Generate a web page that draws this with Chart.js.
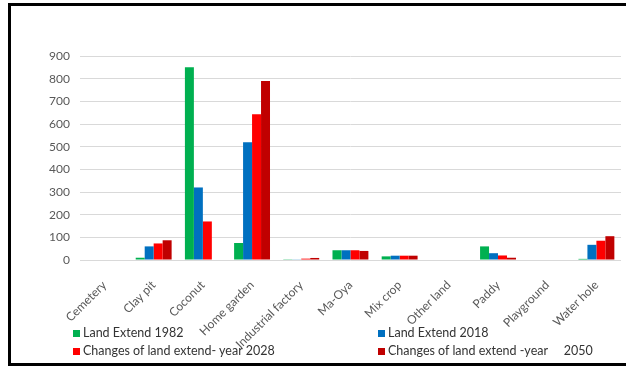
<!DOCTYPE html>
<html>
<head>
<meta charset="utf-8">
<script src="https://cdn.jsdelivr.net/npm/chart.js@4"></script>
<style>
    body { margin: 0; background: #fff; width: 626px; height: 366px; overflow: hidden; position: relative; font-family: Lato, "Liberation Sans", sans-serif; }
    #marco { position: absolute; left: 8px; top: 3px; width: 640px; height: 357px; border: 3px solid #000; box-sizing: content-box; }
    #caixa { position: absolute; left: 3px; top: 3px; width: 622px; height: 353px; }
    #legenda { position: absolute; left: 0; top: 0; }
    .item { position: absolute; font-size: 12.5px; color: #333; white-space: nowrap; }
    .item span { display: inline-block; width: 7px; height: 7px; margin-right: 3px; }
</style>
</head>
<body>
<div id="marco"></div>
<div id="caixa"><canvas id="graficoUsoTerra"></canvas></div>
<div id="legenda"></div>
<script>
// Dados
const categorias = ['Cemetery', 'Clay pit', 'Coconut', 'Home garden', 'Industrial factory', 'Ma-Oya',
    'Mix crop', 'Other land', 'Paddy', 'Playground', 'Water hole'];
const extensao1982 = [0, 10, 850, 75, 1, 43, 16, 0, 60, 0, 5];
const extensao2018 = [0, 60, 320, 520, 3, 43, 19, 0, 30, 0, 67];
const mudanca2028 = [0, 73, 170, 643, 6, 43, 19, 0, 20, 0, 85];
const mudanca2050 = [0, 87, 0, 790, 9, 40, 19, 0, 10, 0, 105];
const nomesSeries = ['Land Extend 1982', 'Land Extend 2018', 'Changes of land extend- year 2028', 'Changes of land extend -year     2050'];
const coresSeries = ['#00b050', '#0070c0', '#ff0000', '#c00000'];
const ticksY = [0, 100, 200, 300, 400, 500, 600, 700, 800, 900];

const series = [extensao1982, extensao2018, mudanca2028, mudanca2050];

const ctx = document.getElementById('graficoUsoTerra').getContext('2d');
const grafico = new Chart(ctx, {
    type: 'bar',
    data: {
        labels: categorias,
        datasets: series.map((valores, i) => ({
            label: nomesSeries[i],
            data: valores,
            backgroundColor: coresSeries[i],
            borderWidth: 0,
            categoryPercentage: 0.73,
            barPercentage: 1.0
        }))
    },
    options: {
        responsive: true,
        maintainAspectRatio: false,
        animation: false,
        layout: { padding: { top: 53, right: 4, left: 36, bottom: 0 } },
        plugins: {
            legend: { display: false },
            tooltip: { enabled: false }
        },
        scales: {
            x: {
                grid: { display: false },
                border: { display: false },
                // altura fixa do eixo para o zero ficar na mesma linha do original
                afterFit: (eixo) => { eixo.height = 96; },
                ticks: {
                    color: '#595959',
                    font: { family: 'Lato', size: 12 },
                    minRotation: 45,
                    maxRotation: 45,
                    autoSkip: false,
                    padding: 10
                }
            },
            y: {
                min: 0,
                max: 900,
                afterBuildTicks: (eixo) => { eixo.ticks = ticksY.map(v => ({ value: v })); },
                grid: { color: '#d9d9d9', lineWidth: 1, drawTicks: false },
                border: { display: false },
                ticks: {
                    color: '#595959',
                    font: { family: 'Lato', size: 12 },
                    padding: 10
                }
            }
        }
    }
});

// Legenda em duas colunas, como no original
const posicoes = [[73, 325], [378, 325], [73, 343], [378, 343]];
const legenda = document.getElementById('legenda');
grafico.data.datasets.forEach((ds, i) => {
    const el = document.createElement('div');
    el.className = 'item';
    el.style.left = posicoes[i][0] + 'px';
    el.style.top = posicoes[i][1] + 'px';
    el.innerHTML = '<span style="background:' + ds.backgroundColor + '"></span>' + ds.label.replace(/ {2,}/g, m => '&nbsp;'.repeat(m.length));
    legenda.appendChild(el);
});
</script>
</body>
</html>
